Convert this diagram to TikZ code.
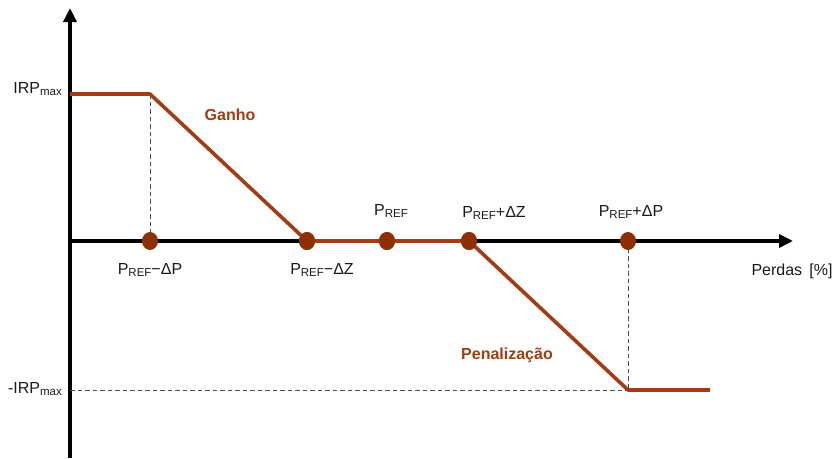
\documentclass[tikz,border=0pt]{standalone}
\usepackage{fontspec}
\setmainfont{Liberation Sans}
\usetikzlibrary{arrows.meta,shapes.geometric}
\definecolor{brn}{HTML}{A33C12}
\definecolor{dotc}{HTML}{8E2F05}
\definecolor{txt}{HTML}{1A1A1A}
\newcommand{\rf}[1]{\raisebox{-2.5pt}{\fontsize{11.5}{12}\selectfont #1}}
\begin{document}
\begin{tikzpicture}[x=1pt,y=-1pt,
  axis/.style={line width=3.4pt,-{Triangle[length=14pt,width=13pt]}},
  curve/.style={line width=3.6pt,brn},
  guide/.style={line width=1pt,black!70,dash pattern=on 4.5pt off 3pt},
  dot/.style={ellipse,fill=dotc,minimum width=16pt,minimum height=18pt,inner sep=0pt},
  lbl/.style={font=\fontsize{16}{18}\selectfont,text=txt,inner sep=0pt},
  blbl/.style={font=\fontsize{16}{18}\selectfont\bfseries,text=brn,inner sep=0pt}]
\useasboundingbox (0,0) rectangle (835,458);
% coordinates
\coordinate (o) at (70,241);
\coordinate (ybot) at (70,458);
\coordinate (ytop) at (70,8);
\coordinate (xend) at (793,241);
\coordinate (top0) at (70,94);
\coordinate (top1) at (150,94);
\coordinate (bot0) at (70,390);
\coordinate (bot1) at (628,390);
\coordinate (bot2) at (710,390);
% axes
\draw[axis] (ybot) -- (ytop);
\draw[axis] (o) -- (xend);
% guides
\draw[guide] (top1) -- (150,241);
\draw[guide] (628,241) -- (bot1);
\draw[guide] (bot0) -- (bot1);
% dots
\node[dot] (d1) at (150,241) {};
\node[dot] (d2) at (307,241) {};
\node[dot] (d3) at (387,241) {};
\node[dot] (d4) at (469,241) {};
\node[dot] (d5) at (628,241) {};
% curve
\draw[curve,line join=round] (top0) -- (top1) -- (d2.center) -- (d4.center) -- (bot1) -- (bot2);
\node[dot] at (d2) {};
\node[dot] at (d3) {};
\node[dot] at (d4) {};
% labels
\node[lbl,anchor=east] (l1) at (62,89) {IRP\rf{max}};
\node[lbl,anchor=east] (l2) at (62,389) {-IRP\rf{max}};
\node[blbl] (g) at (230,115) {Ganho};
\node[blbl] (p) at (507,355) {Penalização};
\node[lbl] (r1) at (150,270) {P\rf{REF}−ΔP};
\node[lbl] (r2) at (322,270) {P\rf{REF}−ΔZ};
\node[lbl] (r3) at (391,211) {P\rf{REF}};
\node[lbl] (r4) at (494,213) {P\rf{REF}+ΔZ};
\node[lbl] (r5) at (631,212) {P\rf{REF}+ΔP};
\node[lbl] (pd) at (792,271) {Perdas\, [\%]};
\end{tikzpicture}
\end{document}
